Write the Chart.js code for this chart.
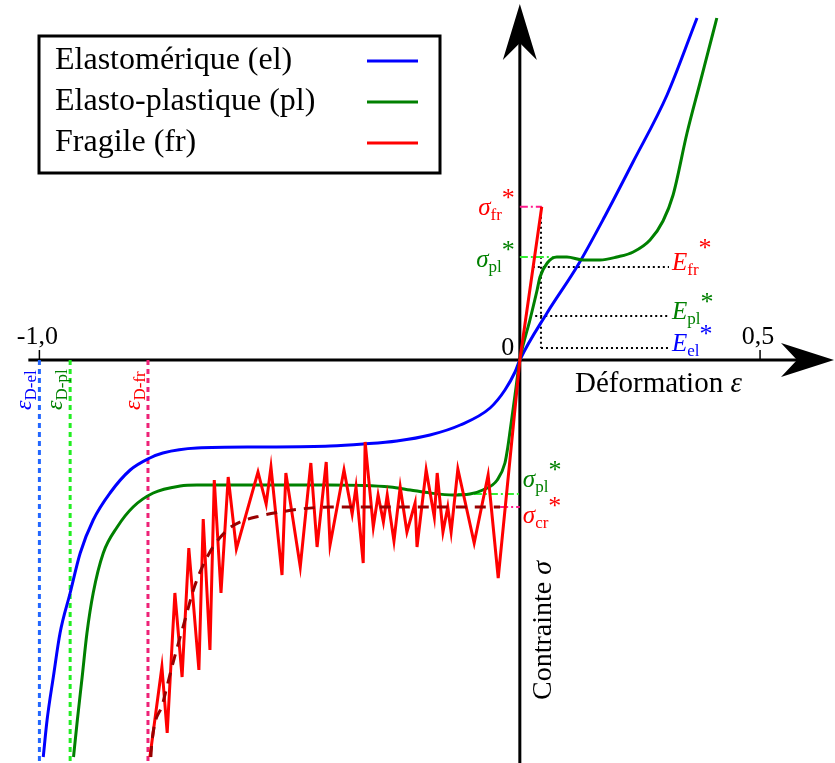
<!DOCTYPE html>
<html>
<head>
<meta charset="utf-8">
<script src="https://cdn.jsdelivr.net/npm/chart.js@4"></script>
<style>
  html, body { margin: 0; padding: 0; background: #fff; }
  #chart { display: block; }
</style>
</head>
<body>
<canvas id="chart" width="835" height="763"></canvas>
<script>
// Déformation (x) / contrainte (y), unités arbitraires
const elStrain = [-0.992, -0.984, -0.971, -0.957, -0.936, -0.915, -0.888, -0.853, -0.811, -0.770, -0.743, -0.672, -0.535, -0.395, -0.326, -0.256, -0.187, -0.124, -0.062, -0.031, -0.010, 0, 0.0566, 0.1211, 0.1773, 0.2356, 0.3064, 0.3688];
const elStress = [-3.97, -3.60, -3.17, -2.73, -2.33, -1.93, -1.60, -1.33, -1.10, -0.98, -0.93, -0.88, -0.87, -0.86, -0.84, -0.81, -0.75, -0.65, -0.48, -0.30, -0.12, 0, 0.47, 0.95, 1.44, 1.98, 2.65, 3.42];

const plStrain = [-0.929, -0.921, -0.911, -0.901, -0.888, -0.867, -0.838, -0.805, -0.763, -0.707, -0.672, -0.534, -0.395, -0.270, -0.228, -0.187, -0.139, -0.104, -0.077, -0.047, -0.031, -0.025, -0.020, -0.010, 0, 0.021, 0.036, 0.042, 0.057, 0.077, 0.098, 0.132, 0.167, 0.202, 0.236, 0.271, 0.298, 0.319, 0.348, 0.375, 0.402, 0.410];
const plStress = [-3.97, -3.60, -3.17, -2.73, -2.33, -1.93, -1.67, -1.47, -1.33, -1.26, -1.25, -1.25, -1.25, -1.27, -1.30, -1.33, -1.35, -1.34, -1.30, -1.20, -1.03, -0.87, -0.70, -0.35, 0, 0.40, 0.70, 0.83, 0.97, 1.03, 1.03, 1.00, 1.00, 1.03, 1.08, 1.20, 1.39, 1.65, 2.27, 2.77, 3.27, 3.42];

const frStrain = [-0.770, -0.745, -0.734, -0.718, -0.703, -0.689, -0.668, -0.659, -0.645, -0.636, -0.622, -0.607, -0.590, -0.545, -0.528, -0.518, -0.495, -0.487, -0.457, -0.435, -0.422, -0.403, -0.395, -0.366, -0.349, -0.341, -0.326, -0.322, -0.305, -0.295, -0.284, -0.276, -0.262, -0.249, -0.235, -0.218, -0.214, -0.195, -0.178, -0.172, -0.160, -0.150, -0.143, -0.129, -0.095, -0.066, -0.045, 0, 0.0456];
const frStress = [-3.97, -3.07, -3.73, -2.33, -3.17, -1.88, -3.10, -1.59, -2.90, -1.20, -2.33, -1.17, -1.89, -1.12, -1.44, -1.07, -2.15, -1.13, -2.07, -1.03, -1.87, -1.02, -1.85, -1.10, -1.54, -1.27, -2.03, -0.82, -1.67, -1.35, -1.62, -1.35, -1.81, -1.27, -1.72, -1.43, -1.87, -1.10, -1.57, -1.13, -1.72, -1.47, -1.72, -1.09, -1.83, -1.15, -2.18, 0, 1.533];

const crStrain = [-0.768, -0.766, -0.743, -0.722, -0.701, -0.676, -0.645, -0.609, -0.582, -0.541, -0.499, -0.457, -0.395, -0.187, -0.041];
const crStress = [-3.97, -3.83, -3.43, -3.03, -2.67, -2.25, -1.92, -1.70, -1.62, -1.56, -1.52, -1.49, -1.47, -1.47, -1.47];

// niveaux caractéristiques
const sigmaFr = 1.533, epsFr = 0.0456;
const sigmaPl = 1.03, epsPl = 0.077;
const sigmaPlNeg = -1.34, epsPlNeg = -0.129;
const sigmaCr = -1.47, epsCr = -0.041;
const modLevels = [0.93, 0.44, 0.12];          // E_fr, E_pl, E_el
const modStart = [0.027, 0.032, 0.044];
const modEnd = 0.3105;
const failStrain = [-1.0, -0.936, -0.774];      // eps D-el, D-pl, D-fr

const tickValues = [-1.0, 0.5];
const tickLabels = ['-1,0', '0,5'];
const seriesNames = ['Elastomérique (el)', 'Elasto-plastique (pl)', 'Fragile (fr)'];
const seriesColors = ['#0000ff', '#008000', '#ff0000'];

const X_MIN = -1.082, X_MAX = 0.656;
const Y_MIN = -4.03, Y_MAX = 3.60;
const SERIF = '"Liberation Serif"';

function pts(xs, ys) {
    return xs.map((x, i) => ({ x: x, y: ys[i] }));
}

function seg(x1, y1, x2, y2) {
    return [{ x: x1, y: y1 }, { x: x2, y: y2 }];
}

function guide(data, color, dash, width) {
    return { data: data, borderColor: color, borderWidth: width || 2, borderDash: dash, pointRadius: 0, showLine: true, tension: 0 };
}

function curve(data, color, extra) {
    return Object.assign({ data: data, borderColor: color, borderWidth: 3, pointRadius: 0, showLine: true, cubicInterpolationMode: 'monotone' }, extra || {});
}

const datasets = [
    curve(pts(crStrain, crStress), '#990000', { borderDash: [11, 8] }),
    { data: pts(frStrain, frStress), borderColor: seriesColors[2], borderWidth: 3, pointRadius: 0, showLine: true, tension: 0 },
    curve(pts(plStrain, plStress), seriesColors[1]),
    curve(pts(elStrain, elStress), seriesColors[0])
];

// lignes de repère
datasets.push(guide(seg(0, sigmaFr, epsFr, sigmaFr), '#ff1a8c', [8, 3, 2, 3]));
datasets.push(guide(seg(0, sigmaPl, epsPl, sigmaPl), '#33ee33', [8, 3, 2, 3]));
datasets.push(guide(seg(epsPlNeg, sigmaPlNeg, 0, sigmaPlNeg), '#33ee33', [8, 3, 2, 3]));
datasets.push(guide(seg(epsCr, sigmaCr, 0, sigmaCr), '#ff1a8c', [8, 3, 2, 3]));
modLevels.forEach((lv, i) => datasets.push(guide(seg(modStart[i], lv, modEnd, lv), '#000', [2, 3])));
datasets.push(guide(seg(modStart[2], sigmaFr, modStart[2], modLevels[2]), '#000', [2, 3]));
const failColors = ['#2266ff', '#22ee22', '#ee2277'];
failStrain.forEach((e, i) => datasets.push(guide(seg(e, 0, e, Y_MIN), failColors[i], [5, 4], 3)));

function drawParts(ctx, x, y, parts) {
    parts.forEach(p => {
        ctx.font = p.font;
        ctx.fillStyle = p.color;
        ctx.fillText(p.text, x, y + (p.dy || 0));
        x += ctx.measureText(p.text).width;
    });
}

function partsWidth(ctx, parts) {
    let w = 0;
    parts.forEach(p => { ctx.font = p.font; w += ctx.measureText(p.text).width; });
    return w;
}

function sym(main, sub, color, starDy) {
    return [
        { text: main, font: 'italic 25px ' + SERIF, color: color },
        { text: sub, font: '17px ' + SERIF, color: color, dy: 5 },
        { text: '*', font: '26px ' + SERIF, color: color, dy: starDy }
    ];
}

const decor = {
    id: 'decor',
    beforeDatasetsDraw(chart) {
        const ctx = chart.ctx;
        const xs = chart.scales.x, ys = chart.scales.y;
        const x0 = xs.getPixelForValue(0), y0 = ys.getPixelForValue(0);
        const W = chart.width, H = chart.height;
        ctx.save();
        ctx.strokeStyle = '#000';
        ctx.fillStyle = '#000';
        ctx.lineWidth = 3;
        // axe des x
        ctx.beginPath();
        ctx.moveTo(xs.getPixelForValue(-1.023), y0);
        ctx.lineTo(W - 30, y0);
        ctx.stroke();
        ctx.beginPath();
        ctx.moveTo(W - 1, y0);
        ctx.lineTo(W - 54, y0 - 17);
        ctx.lineTo(W - 38, y0);
        ctx.lineTo(W - 54, y0 + 17);
        ctx.closePath();
        ctx.fill();
        // axe des y
        ctx.beginPath();
        ctx.moveTo(x0, H);
        ctx.lineTo(x0, 40);
        ctx.stroke();
        ctx.beginPath();
        ctx.moveTo(x0, 4);
        ctx.lineTo(x0 - 17, 60);
        ctx.lineTo(x0, 43);
        ctx.lineTo(x0 + 17, 60);
        ctx.closePath();
        ctx.fill();
        // graduations
        ctx.lineWidth = 1.5;
        ctx.font = '26px ' + SERIF;
        ctx.textAlign = 'center';
        tickValues.forEach((v, i) => {
            const px = xs.getPixelForValue(v);
            ctx.beginPath();
            ctx.moveTo(px, y0 - 10);
            ctx.lineTo(px, y0);
            ctx.stroke();
            ctx.fillText(tickLabels[i], px - 2, y0 - 16);
        });
        ctx.fillText('0', x0 - 12, y0 - 5);
        ctx.restore();
    },
    afterDatasetsDraw(chart) {
        const ctx = chart.ctx;
        const xs = chart.scales.x, ys = chart.scales.y;
        const x0 = xs.getPixelForValue(0), y0 = ys.getPixelForValue(0);
        ctx.save();
        ctx.textAlign = 'left';
        ctx.textBaseline = 'alphabetic';

        // titres des axes
        drawParts(ctx, 575, y0 + 32, [
            { text: 'Déformation ', font: '29px ' + SERIF, color: '#000' },
            { text: 'ε', font: 'italic 29px ' + SERIF, color: '#000' }
        ]);
        ctx.save();
        ctx.translate(x0 + 31, 700);
        ctx.rotate(-Math.PI / 2);
        drawParts(ctx, 0, 0, [
            { text: 'Contrainte ', font: '28px ' + SERIF, color: '#000' },
            { text: 'σ', font: 'italic 28px ' + SERIF, color: '#000' }
        ]);
        ctx.restore();

        // contraintes caractéristiques
        const sFr = sym('σ', 'fr', '#ff0000', -9);
        drawParts(ctx, x0 - 5 - partsWidth(ctx, sFr), ys.getPixelForValue(sigmaFr) + 8, sFr);
        const sPl = sym('σ', 'pl', '#008000', -9);
        drawParts(ctx, x0 - 5 - partsWidth(ctx, sPl), ys.getPixelForValue(sigmaPl) + 10, sPl);
        drawParts(ctx, x0 + 3, ys.getPixelForValue(sigmaPlNeg) - 7, sym('σ', 'pl', '#008000', -9));
        drawParts(ctx, x0 + 3, ys.getPixelForValue(sigmaCr) + 16, sym('σ', 'cr', '#ff0000', -9));

        // modules
        const modNames = ['fr', 'pl', 'el'];
        const modColors = ['#ff0000', '#008000', '#0000ff'];
        const starDy = [-14, -9, -9];
        modLevels.forEach((lv, i) => {
            drawParts(ctx, xs.getPixelForValue(modEnd) + 3, ys.getPixelForValue(lv) + 3, sym('E', modNames[i], modColors[i], starDy[i]));
        });

        // déformations à rupture
        const failNames = ['D-el', 'D-pl', 'D-fr'];
        const failText = ['#0000ff', '#008000', '#ff0000'];
        failStrain.forEach((e, i) => {
            ctx.save();
            ctx.translate(xs.getPixelForValue(e) - 8, y0 + 50);
            ctx.rotate(-Math.PI / 2);
            drawParts(ctx, 0, 0, [
                { text: 'ε', font: 'italic 24px ' + SERIF, color: failText[i] },
                { text: failNames[i], font: '17px ' + SERIF, color: failText[i], dy: 5 }
            ]);
            ctx.restore();
        });

        // légende
        ctx.fillStyle = '#fff';
        ctx.fillRect(39, 36, 401, 137);
        ctx.strokeStyle = '#000';
        ctx.lineWidth = 3;
        ctx.strokeRect(39, 36, 401, 137);
        ctx.textBaseline = 'middle';
        seriesNames.forEach((name, i) => {
            const cy = 61 + i * 41;
            ctx.font = '32px ' + SERIF;
            ctx.fillStyle = '#000';
            ctx.fillText(name, 55, cy);
            ctx.strokeStyle = seriesColors[i];
            ctx.lineWidth = 3;
            ctx.beginPath();
            ctx.moveTo(367, cy);
            ctx.lineTo(418, cy);
            ctx.stroke();
        });
        ctx.restore();
    }
};

new Chart(document.getElementById('chart'), {
    type: 'scatter',
    data: { datasets: datasets },
    options: {
        responsive: false,
        animation: false,
        layout: { padding: 0 },
        plugins: {
            legend: { display: false },
            tooltip: { enabled: false }
        },
        scales: {
            x: { type: 'linear', min: X_MIN, max: X_MAX, display: false },
            y: { type: 'linear', min: Y_MIN, max: Y_MAX, display: false }
        }
    },
    plugins: [decor]
});
</script>
</body>
</html>
